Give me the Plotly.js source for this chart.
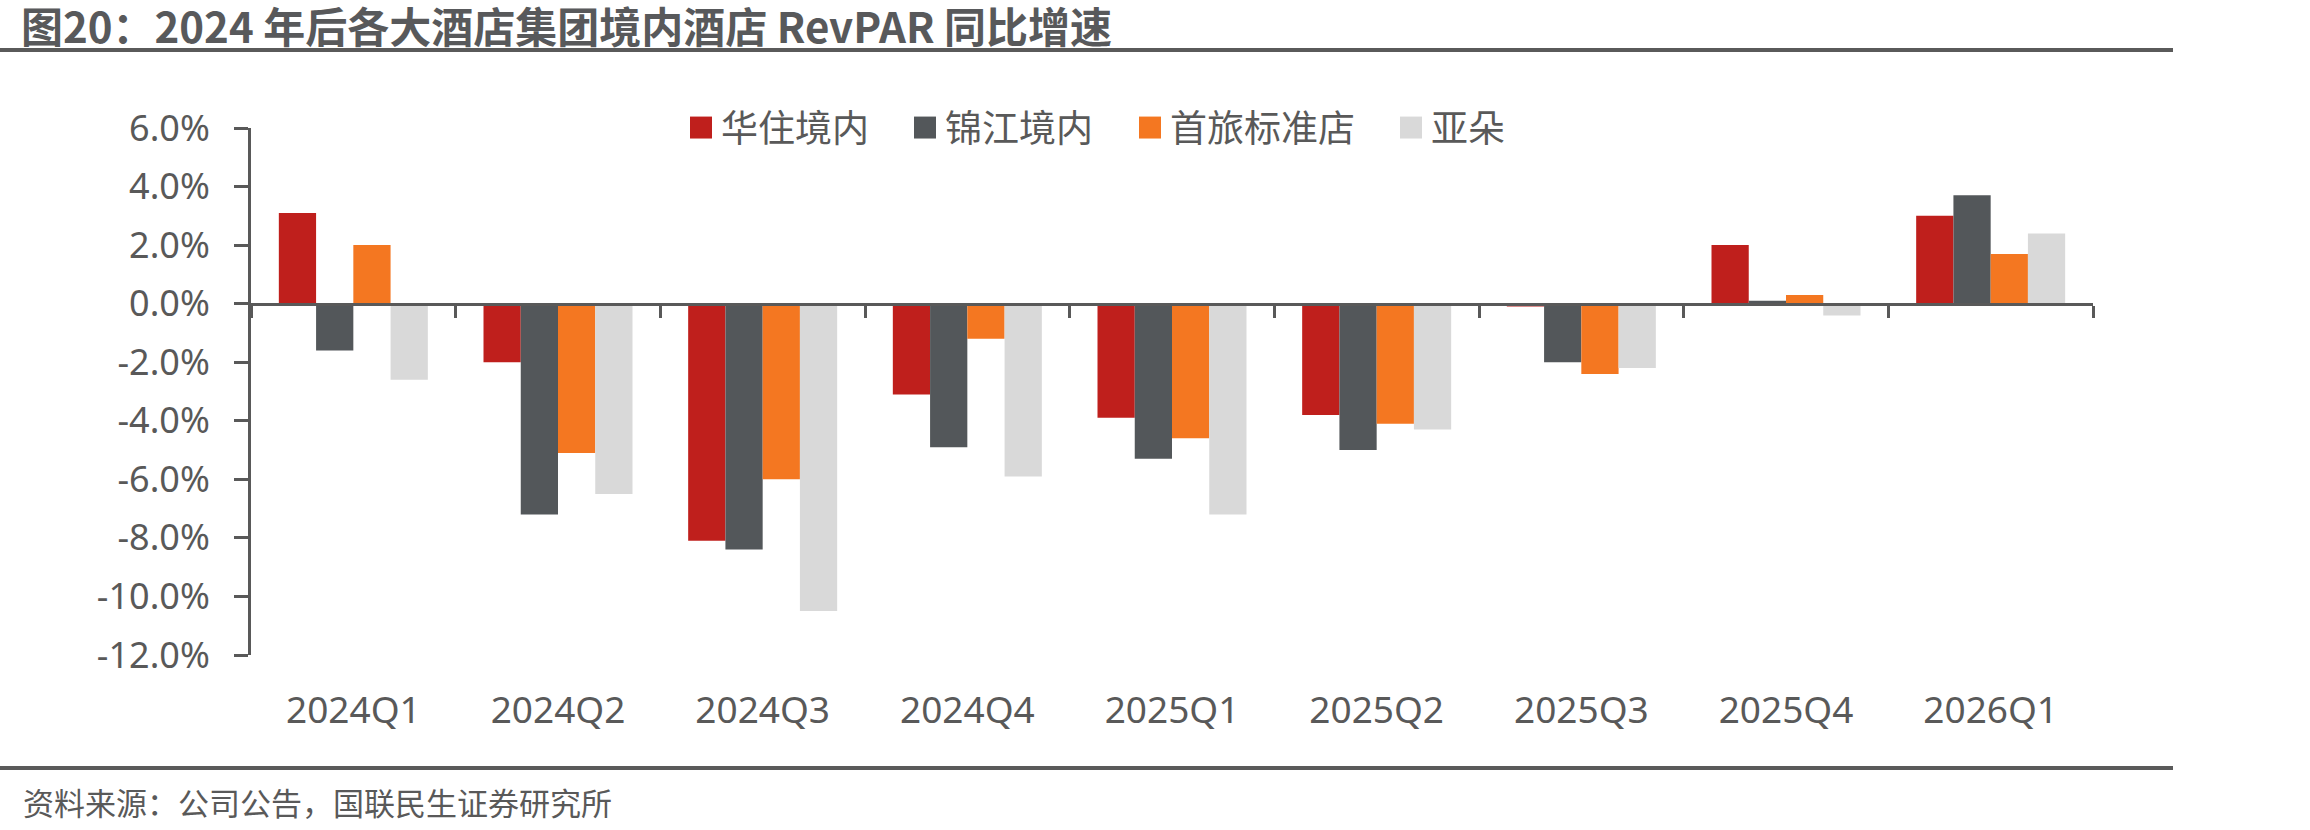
<!DOCTYPE html>
<html>
<head>
<meta charset="utf-8">
<script src="https://cdn.plot.ly/plotly-3.0.1.min.js"></script>
<style>
  html, body { margin: 0; padding: 0; background: #ffffff; }
  #chart { width: 2310px; height: 830px; }
</style>
</head>
<body>
<div id="chart"></div>
<script>
// ---------- data ----------
const categories = ['2024Q1','2024Q2','2024Q3','2024Q4','2025Q1','2025Q2','2025Q3','2025Q4','2026Q1'];
const seriesNames = ['华住境内','锦江境内','首旅标准店','亚朵'];
const huazhu   = [3.1, -2.0, -8.1, -3.1, -3.9, -3.8, -0.1, 2.0, 3.0];
const jinjiang = [-1.6, -7.2, -8.4, -4.9, -5.3, -5.0, -2.0, 0.1, 3.7];
const shoulv   = [2.0, -5.1, -6.0, -1.2, -4.6, -4.1, -2.4, 0.3, 1.7];
const atour    = [-2.6, -6.5, -10.5, -5.9, -7.2, -4.3, -2.2, -0.4, 2.4];
const yTickVals = [6, 4, 2, 0, -2, -4, -6, -8, -10, -12];
const yTickLabels = ['6.0%','4.0%','2.0%','0.0%','-2.0%','-4.0%','-6.0%','-8.0%','-10.0%','-12.0%'];
const titleText = '图20：2024 年后各大酒店集团境内酒店 RevPAR 同比增速';
const sourceText = '资料来源：公司公告，国联民生证券研究所';

// ---------- layout constants ----------
const W = 2310, H = 830;
const M = {l: 251, r: 217, t: 128, b: 175, autoexpand: false};
const PW = W - M.l - M.r, PH = H - M.t - M.b;
const px2x = px => (px - M.l) / PW;
const px2y = py => (H - M.b - py) / PH;

const colors = ['#BF1F1C', '#53575A', '#F47721', '#D9D9D9'];
const seriesValues = [huazhu, jinjiang, shoulv, atour];
const legendIds = ['legend', 'legend2', 'legend3', 'legend4'];
const legendX = [681, 905, 1130, 1391];

const latinFont = '"Noto Sans", "Noto Sans CJK SC", sans-serif';
const textColor = '#595959';

const traces = seriesValues.map((vals, i) => ({
  type: 'bar',
  name: seriesNames[i],
  x: categories,
  y: vals,
  xaxis: 'x',
  yaxis: 'y',
  marker: {color: colors[i], line: {width: 0}},
  legend: legendIds[i],
  hoverinfo: 'x+y+name'
}));
// helper trace for the zero-line axis with boundary ticks
traces.push({
  type: 'scatter', mode: 'markers', x: categories, y: categories.map(() => null),
  xaxis: 'x2', yaxis: 'y', showlegend: false, hoverinfo: 'skip'
});

const legendBase = (i) => ({
  orientation: 'h',
  xref: 'container', yref: 'container',
  x: legendX[i] / W, y: 1 - 128 / H,
  xanchor: 'left', yanchor: 'middle',
  bgcolor: 'rgba(0,0,0,0)', borderwidth: 0,
  font: {family: latinFont, size: 37, color: textColor}
});

const layout = {
  width: W, height: H,
  margin: M,
  paper_bgcolor: '#ffffff',
  plot_bgcolor: '#ffffff',
  barmode: 'group',
  bargap: 0.272,
  bargroupgap: 0,
  title: {
    text: titleText,
    xref: 'container', yref: 'container',
    x: 21 / W, y: 1 - 28 / H,
    xanchor: 'left', yanchor: 'middle',
    automargin: false,
    font: {family: '"Noto Sans CJK SC", sans-serif', size: 42, weight: 700, color: '#58595B'}
  },
  xaxis: {
    type: 'category',
    categoryarray: categories,
    range: [-0.5, categories.length - 0.5],
    showline: false, showgrid: false, zeroline: false,
    ticks: '',
    ticklabelstandoff: 30,
    tickfont: {family: latinFont, size: 37, color: textColor},
    fixedrange: true
  },
  xaxis2: {
    type: 'category',
    categoryarray: categories,
    range: [-0.5, categories.length - 0.5],
    overlaying: 'x',
    anchor: 'free',
    position: 12 / 18,
    side: 'bottom',
    showline: true, linecolor: '#595959', linewidth: 3,
    ticks: 'outside', tickson: 'boundaries', ticklen: 12, tickwidth: 3, tickcolor: '#595959',
    showticklabels: false, showgrid: false, zeroline: false,
    fixedrange: true
  },
  yaxis: {
    range: [-12, 6],
    tickvals: yTickVals,
    ticktext: yTickLabels,
    showline: true, linecolor: '#595959', linewidth: 3,
    ticks: 'outside', ticklen: 14, tickwidth: 3, tickcolor: '#595959',
    ticklabelstandoff: 17,
    showgrid: false, zeroline: false,
    tickfont: {family: latinFont, size: 36, color: textColor},
    fixedrange: true
  },
  legend: legendBase(0),
  legend2: legendBase(1),
  legend3: legendBase(2),
  legend4: legendBase(3),
  shapes: [
    {type: 'line', xref: 'paper', yref: 'paper', x0: px2x(0), x1: px2x(2173), y0: px2y(50), y1: px2y(50),
     line: {color: '#5A5A5A', width: 4}},
    {type: 'line', xref: 'paper', yref: 'paper', x0: px2x(0), x1: px2x(2173), y0: px2y(768), y1: px2y(768),
     line: {color: '#5A5A5A', width: 4}}
  ],
  annotations: [
    {text: sourceText, xref: 'paper', yref: 'paper', x: px2x(21), y: px2y(802),
     xanchor: 'left', yanchor: 'middle', showarrow: false,
     font: {family: '"Noto Sans CJK SC", sans-serif', size: 31, color: textColor}}
  ]
};

Plotly.newPlot('chart', traces, layout, {displayModeBar: false}).then(() => {
  document.querySelectorAll('.legendpoints path').forEach(p => {
    const t = p.getAttribute('transform') || '';
    p.setAttribute('transform', t + ' scale(1.83)');
  });
});
</script>
</body>
</html>
